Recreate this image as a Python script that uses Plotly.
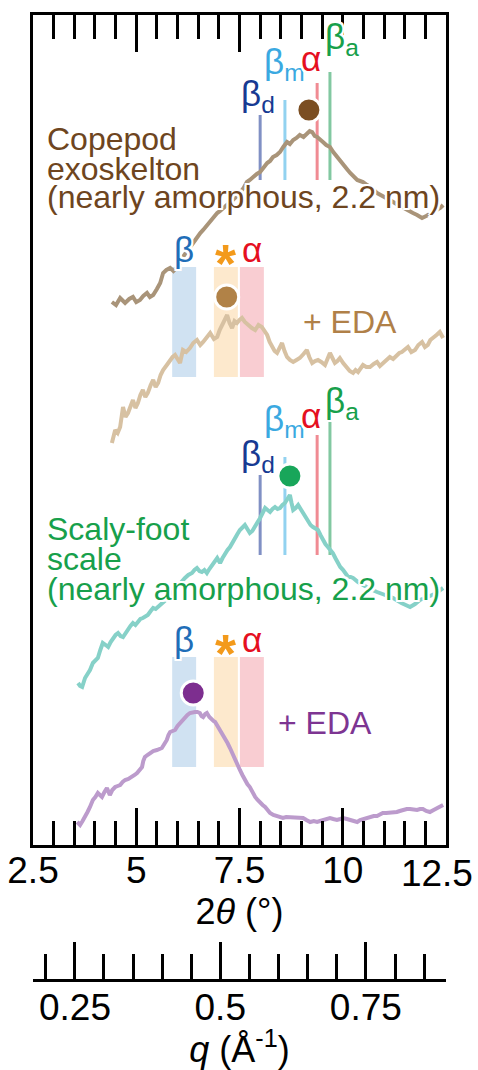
import math
import plotly.graph_objects as go

# ---------------- diffraction profiles: (2θ in deg, offset intensity a.u.) ----------------
copepod = [(4.41,543),(4.51,540),(4.61,547),(4.67,544),(4.73,542),(4.83,546),(4.92,548),(5.00,543),
           (5.09,545),(5.17,549),(5.26,552),(5.33,548),(5.41,550),(5.50,556),(5.58,562),(5.65,572),
           (5.73,575),(5.82,577),(5.90,574),(5.99,578),(6.06,582),(6.13,588),(6.19,592),(6.25,595),
           (6.36,601),(6.47,608),(6.55,612),(6.62,615),(6.70,619),(6.79,625),(6.88,628),(6.96,632),
           (7.03,634),(7.10,637),(7.22,641),(7.34,645),(7.42,648),(7.51,652),(7.60,657),(7.68,663),
           (7.75,665),(7.83,668),(7.92,671),(8.00,673),(8.08,678),(8.17,682),(8.24,684),(8.31,688),
           (8.40,690),(8.48,693),(8.56,698),(8.65,703),(8.72,701),(8.80,705),(8.88,707),(8.96,710),
           (9.05,708),(9.13,711),(9.20,714),(9.26,713),(9.32,709),(9.38,708),(9.45,706),(9.52,703),
           (9.60,700),(9.69,698),(9.77,693),(9.86,688),(9.94,684),(10.01,680),(10.10,676),(10.18,672),
           (10.27,668),(10.35,665),(10.42,664),(10.49,663),(10.59,660),(10.70,657),(10.83,652),
           (10.98,649),(11.14,645),(11.30,641),(11.46,637),(11.58,635),(11.70,632),(11.80,630),
           (11.92,627),(12.02,629),(12.11,631),(12.20,633),(12.28,635),(12.36,637),(12.43,640)]

copepod_eda = [(4.41,402),(4.49,415),(4.55,412),(4.61,418),(4.68,438),(4.74,428),(4.80,432),(4.86,440),
               (4.92,445),(4.98,437),(5.04,442),(5.10,450),(5.16,455),(5.22,448),(5.28,452),(5.35,460),
               (5.41,465),(5.47,458),(5.53,462),(5.59,470),(5.65,475),(5.74,480),(5.82,485),(5.88,488),
               (5.94,490),(6.00,486),(6.06,482),(6.13,495),(6.21,493),(6.30,497),(6.38,502),(6.47,505),
               (6.55,500),(6.62,503),(6.70,508),(6.79,512),(6.88,506),(6.96,508),(7.02,515),(7.08,520),
               (7.14,524),(7.20,530),(7.26,522),(7.32,517),(7.38,524),(7.44,522),(7.50,525),(7.56,527),
               (7.63,523),(7.71,520),(7.80,517),(7.88,515),(7.96,520),(8.04,518),(8.10,514),(8.17,510),
               (8.23,503),(8.29,498),(8.35,494),(8.41,492),(8.47,497),(8.53,502),(8.59,494),(8.65,488),
               (8.72,485),(8.80,483),(8.88,485),(8.96,487),(9.05,491),(9.13,495),(9.19,488),(9.26,482),
               (9.33,484),(9.40,485),(9.48,483),(9.57,480),(9.63,486),(9.69,492),(9.75,487),(9.81,482),
               (9.87,484),(9.93,487),(10.01,482),(10.10,477),(10.17,474),(10.25,472),(10.31,475),
               (10.37,473),(10.43,477),(10.49,480),(10.57,478),(10.66,478),(10.75,481),(10.83,483),
               (10.90,479),(10.97,482),(11.05,485),(11.14,488),(11.22,486),(11.31,490),(11.37,492),
               (11.43,493),(11.50,496),(11.58,498),(11.66,493),(11.75,495),(11.83,500),(11.92,503),
               (11.99,498),(12.06,500),(12.12,505),(12.19,508),(12.27,510),(12.35,513),(12.43,507)]

scalyfoot = [(3.59,162),(3.64,159),(3.69,158),(3.76,167),(3.82,171),(3.88,175),(3.95,182),(4.01,185),
             (4.07,187),(4.13,195),(4.19,202),(4.26,200),(4.32,198),(4.38,203),(4.44,207),(4.50,210),
             (4.56,212),(4.62,209),(4.68,208),(4.74,212),(4.80,215),(4.86,219),(4.92,222),(4.98,220),
             (5.04,223),(5.10,226),(5.16,227),(5.22,228),(5.28,230),(5.35,234),(5.41,237),(5.47,236),
             (5.53,238),(5.59,241),(5.65,243),(5.74,246),(5.82,250),(5.90,254),(5.99,258),(6.08,262),
             (6.18,267),(6.26,270),(6.35,272),(6.41,275),(6.47,277),(6.53,274),(6.59,273),(6.65,275),
             (6.71,272),(6.77,276),(6.83,280),(6.90,284),(6.96,287),(7.00,284),(7.03,282),(7.09,287),
             (7.15,292),(7.21,295),(7.27,298),(7.33,303),(7.39,308),(7.45,311),(7.51,315),(7.57,318),
             (7.63,320),(7.69,316),(7.75,312),(7.81,314),(7.88,318),(7.94,323),(8.00,327),(8.06,332),
             (8.12,337),(8.18,335),(8.24,333),(8.30,336),(8.36,338),(8.42,336),(8.48,337),(8.54,340),
             (8.60,342),(8.66,346),(8.72,350),(8.76,342),(8.80,335),(8.86,337),(8.92,340),(8.98,336),
             (9.04,332),(9.10,327),(9.16,323),(9.22,320),(9.28,318),(9.34,317),(9.40,315),(9.46,310),
             (9.52,305),(9.58,301),(9.64,298),(9.70,295),(9.76,292),(9.82,287),(9.88,282),(9.94,278),
             (10.01,275),(10.07,271),(10.13,268),(10.19,268),(10.25,267),(10.37,263),(10.49,260),
             (10.66,256),(10.83,253),(11.02,250),(11.22,247),(11.42,242),(11.63,238),(11.75,241),
             (11.87,245),(11.99,247),(12.11,249),(12.20,250),(12.28,252),(12.36,255),(12.43,257)]

scalyfoot_eda = [(3.57,23),(3.64,20),(3.70,24),(3.76,28),(3.82,33),(3.88,38),(3.95,45),(4.01,48),
                 (4.07,52),(4.12,50),(4.17,48),(4.23,53),(4.29,57),(4.33,53),(4.36,50),(4.42,55),
                 (4.49,58),(4.55,59),(4.61,60),(4.67,63),(4.73,65),(4.81,66),(4.90,68),(4.96,70),
                 (5.02,72),(5.08,75),(5.14,78),(5.17,84),(5.21,88),(5.27,90),(5.33,92),(5.41,94),
                 (5.50,95),(5.56,96),(5.62,97),(5.68,101),(5.74,105),(5.78,110),(5.82,113),(5.88,114),
                 (5.94,115),(6.00,119),(6.06,122),(6.12,125),(6.18,127),(6.24,130),(6.30,132),(6.36,133),
                 (6.42,133),(6.48,133),(6.54,132),(6.58,129),(6.62,128),(6.67,131),(6.71,132),(6.77,128),
                 (6.83,125),(6.87,124),(6.91,123),(6.97,119),(7.03,115),(7.09,111),(7.15,107),(7.21,102),
                 (7.27,97),(7.33,91),(7.39,85),(7.45,80),(7.51,75),(7.57,70),(7.63,65),(7.69,61),
                 (7.75,58),(7.81,53),(7.88,48),(7.94,45),(8.00,42),(8.06,40),(8.12,38),(8.18,35),
                 (8.24,32),(8.32,30),(8.41,29),(8.48,28),(8.55,27),(8.63,28),(8.72,28),(8.80,27),
                 (8.89,28),(8.96,28),(9.04,27),(9.12,25),(9.21,23),(9.30,24),(9.38,23),(9.45,24),
                 (9.52,25),(9.60,26),(9.69,27),(9.77,26),(9.86,25),(9.94,26),(10.01,27),(10.10,26),
                 (10.18,25),(10.27,24),(10.35,23),(10.42,25),(10.49,26),(10.57,27),(10.66,28),
                 (10.75,29),(10.83,29),(10.90,31),(10.97,32),(11.05,32),(11.14,32),(11.22,33),
                 (11.31,33),(11.38,34),(11.46,35),(11.55,36),(11.63,36),(11.72,35),(11.80,35),
                 (11.87,36),(11.94,36),(12.02,34),(12.11,33),(12.20,35),(12.28,37),(12.36,38),(12.43,40)]

# peak maxima markers (2θ, offset intensity)
peak_tt = [9.18, 7.19, 8.72, 6.38]
peak_i = [735, 548, 369, 152]

# reference reflections for untreated samples
ref_names = ["β<sub>d</sub>", "β<sub>m</sub>", "α", "β<sub>a</sub>"]
ref_tt = [8.00, 8.60, 9.38, 9.69]
ref_label_tt = [7.94, 8.59, 9.22, 9.98]
ref_top_copepod = [730, 745, 762, 773]
ref_base_copepod = 665
ref_label_copepod = [737, 769, 775, 794]
ref_top_scaly = [370, 388, 410, 423]
ref_base_scaly = 290
ref_label_scaly = [377, 412, 418, 430]

# EDA complex bands
band_names = ["β", "*", "α"]
band_tt = [6.16, 7.17, 7.80]
band_halfwidth = 0.29
band_copepod = (468, 578)
band_scaly = (78, 188)

# axis ticks
tt_major = [2.5, 5, 7.5, 10, 12.5]
tt_major_text = ["2.5", "5", "7.5", "10", ""]
tt_end_label_pos = [12.28]          # last 2θ label sits inside the page edge
tt_end_label_text = ["12.5"]
tt_minor = [3, 3.5, 4, 4.5, 5.5, 6, 6.5, 7, 8, 8.5, 9, 9.5, 10.5, 11, 11.5, 12]
tt_top_major = [5, 7.5]
tt_top_minor = [3, 3.5, 4, 4.5, 5.5, 6, 6.5, 7, 8, 8.5, 9, 9.5, 10, 10.5, 11, 11.5, 12]
q_major = [0.25, 0.5, 0.75]
q_minor = [0.2, 0.3, 0.35, 0.4, 0.45, 0.55, 0.6, 0.65, 0.7, 0.8, 0.85]
WAVELENGTH = 1.5418  # Cu Kα, Å


def q_to_tt(q):
    return 2 * math.degrees(math.asin(q * WAVELENGTH / (4 * math.pi)))


FONT = "Liberation Sans, Arial, Helvetica, sans-serif"
HALO = ("-2px -2px 0 #fff, 2px -2px 0 #fff, -2px 2px 0 #fff, 2px 2px 0 #fff, "
        "0 -2px 0 #fff, 0 2px 0 #fff, -2px 0 0 #fff, 2px 0 0 #fff")

curve_colors = ["#a99479", "#d7c1a2", "#86d1c8", "#bc9bcc"]
dot_colors = ["#7b4e22", "#b18247", "#18a65a", "#7d2e8f"]
ref_line_colors = ["#8090c4", "#92d2f0", "#f08b93", "#82c8a1"]
ref_text_colors = ["#173a92", "#3aa9e1", "#e5101f", "#17a04b"]
band_fill = ["#d0e2f2", "#fde9cd", "#f9cdd2"]
band_text = ["#1f6eb8", "#f39a1b", "#e5101f"]

fig = go.Figure()

# reflection markers (drawn under the profiles)
for tops, base in [(ref_top_copepod, ref_base_copepod), (ref_top_scaly, ref_base_scaly)]:
    for pos, top, col in zip(ref_tt, tops, ref_line_colors):
        fig.add_trace(go.Scatter(x=[pos, pos], y=[base, top], mode="lines",
                                 line=dict(color=col, width=3), hoverinfo="skip",
                                 showlegend=False))

# profiles
for data, col in zip([copepod, copepod_eda, scalyfoot, scalyfoot_eda], curve_colors):
    xs, ys = zip(*data)
    fig.add_trace(go.Scatter(x=list(xs), y=list(ys), mode="lines",
                             line=dict(color=col, width=4), hoverinfo="skip",
                             showlegend=False))

# peak dots
fig.add_trace(go.Scatter(x=peak_tt, y=peak_i, mode="markers",
                         marker=dict(size=24, color=dot_colors, line=dict(color="white", width=3)),
                         hoverinfo="skip", showlegend=False))

# invisible traces so the extra axes are drawn
fig.add_trace(go.Scatter(x=[None], y=[None], xaxis="x2", yaxis="y2", showlegend=False,
                         hoverinfo="skip"))
fig.add_trace(go.Scatter(x=[None], y=[None], xaxis="x3", yaxis="y", showlegend=False,
                         hoverinfo="skip"))
fig.add_trace(go.Scatter(x=[None], y=[None], xaxis="x4", yaxis="y", showlegend=False,
                         hoverinfo="skip"))

shapes = []
for (lo, hi) in [band_copepod, band_scaly]:
    for c, fc in zip(band_tt, band_fill):
        shapes.append(dict(type="rect", xref="x", yref="y", x0=c - band_halfwidth,
                           x1=c + band_halfwidth, y0=lo, y1=hi, fillcolor=fc,
                           line=dict(width=0), layer="below"))

annotations = []


def label(x, y, text, color, size, xanchor="center", yanchor="middle", yshift=0, halo=True):
    font = dict(family=FONT, size=size, color=color)
    if halo:
        font["shadow"] = HALO
    annotations.append(dict(x=x, y=y, xref="x", yref="y", text=text, showarrow=False,
                            xanchor=xanchor, yanchor=yanchor, yshift=yshift, font=font))


# reflection labels (y values are baselines; shift to box centre)
for ys in [ref_label_copepod, ref_label_scaly]:
    for name, x, y, col in zip(ref_names, ref_label_tt, ys, ref_text_colors):
        label(x, y, name, col, 35, yanchor="middle", yshift=12)

# band labels sit just above each band
for (lo, hi) in [band_copepod, band_scaly]:
    for name, x, col in zip(band_names, band_tt, band_text):
        if name == "*":
            label(x, hi + 6, "<b>*</b>", col, 54, yanchor="middle", yshift=-2)
        else:
            label(x, hi + 6, name, col, 35, yanchor="middle", yshift=12)

# sample descriptions
brown = "#6e4520"
green = "#17a04b"
for txt, y in zip(["Copepod", "exoskelton", "(nearly amorphous, 2.2 nm)"], [706, 676, 648]):
    label(2.8, y, txt, brown, 32, xanchor="left")
for txt, y in zip(["Scaly-foot", "scale", "(nearly amorphous, 2.2 nm)"], [316, 286, 256]):
    label(2.8, y, txt, green, 32, xanchor="left")
label(8.98, 523, "+ EDA", "#b08048", 32, xanchor="left")
label(8.38, 122, "+ EDA", "#7d3592", 32, xanchor="left")

axis_common = dict(showgrid=False, zeroline=False, linecolor="black", tickcolor="black",
                   tickwidth=3, automargin=False)

fig.update_layout(
    width=478, height=1070,
    margin=dict(l=33, r=32, t=15, b=91),
    paper_bgcolor="white", plot_bgcolor="white",
    hovermode=False,
    font=dict(family=FONT, color="black"),
    shapes=shapes,
    annotations=annotations,
    xaxis=dict(**axis_common, domain=[0, 1], anchor="y", range=[2.5, 12.5],
               showline=True, linewidth=3, mirror=True, ticks="inside", ticklen=37,
               tickmode="array", tickvals=tt_major, ticktext=tt_major_text, tickangle=0,
               ticklabelstandoff=-9,
               tickfont=dict(size=37, family=FONT),
               minor=dict(ticks="inside", ticklen=24, tickwidth=3, tickcolor="black",
                          tickmode="array", tickvals=tt_minor),
               title=dict(text="2<i>θ</i> (°)", font=dict(size=36, family=FONT), standoff=8)),
    xaxis4=dict(overlaying="x", side="bottom", anchor="y", range=[2.5, 12.5],
                showline=False, showgrid=False, zeroline=False, ticks="", automargin=False,
                tickmode="array", tickvals=tt_end_label_pos, ticktext=tt_end_label_text,
                tickangle=0, ticklabelstandoff=3, tickfont=dict(size=37, family=FONT)),
    xaxis3=dict(**axis_common, overlaying="x", side="top", anchor="y", range=[2.5, 12.5],
                showline=False, ticks="inside", ticklen=37, tickmode="array",
                tickvals=tt_top_major, showticklabels=False,
                minor=dict(ticks="inside", ticklen=24, tickwidth=3, tickcolor="black",
                           tickmode="array", tickvals=tt_top_minor)),
    yaxis=dict(domain=[0.139, 1], range=[0, 830], showline=True, linewidth=3, linecolor="black",
               mirror=True, ticks="", showticklabels=False, showgrid=False, zeroline=False),
    xaxis2=dict(**axis_common, domain=[0, 1], anchor="y2", range=[2.5, 12.5],
                showline=True, linewidth=3, ticks="inside", ticklen=37, tickmode="array",
                tickvals=[2.5] + [q_to_tt(q) for q in q_major] + [12.5],
                ticktext=[""] + [str(q) for q in q_major] + [""], tickangle=0,
                ticklabelstandoff=-6,
                tickfont=dict(size=37, family=FONT),
                minor=dict(ticks="inside", ticklen=25, tickwidth=3, tickcolor="black",
                           tickmode="array", tickvals=[q_to_tt(q) for q in q_minor]),
                title=dict(text="<i>q</i> (Å<sup>-1</sup>)", font=dict(size=36, family=FONT),
                           standoff=8)),
    yaxis2=dict(domain=[0, 0.045], range=[0, 1], visible=False),
)

fig.write_html("out.html")
